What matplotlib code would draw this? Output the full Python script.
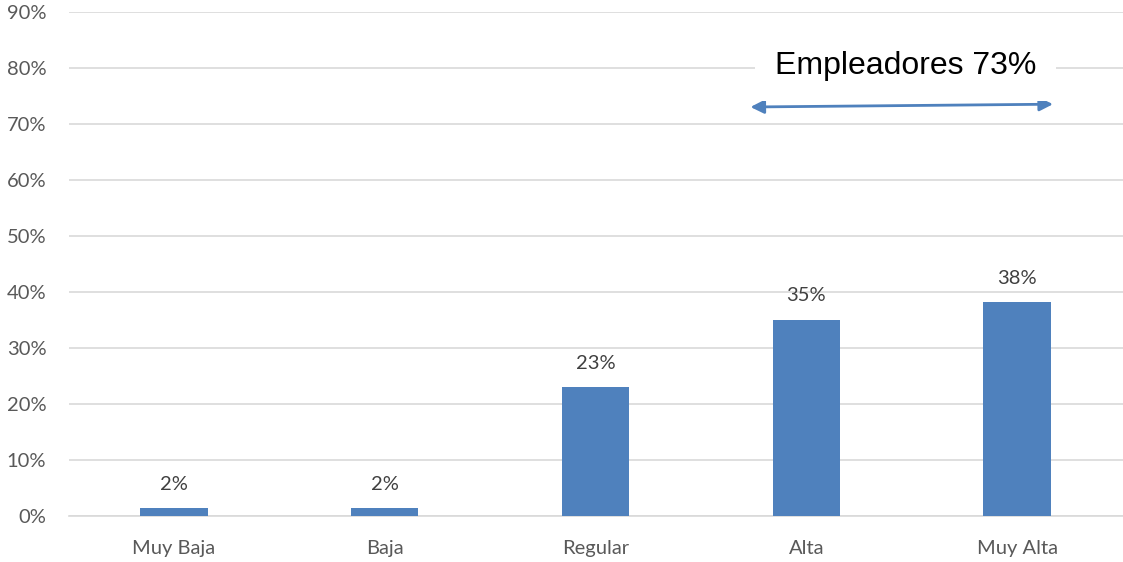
import matplotlib.pyplot as plt
from matplotlib.ticker import PercentFormatter

categories = ["Muy Baja", "Baja", "Regular", "Alta", "Muy Alta"]
shares = [1.5, 1.5, 23.1, 35.1, 38.3]
yticks = [0, 10, 20, 30, 40, 50, 60, 70, 80, 90]

BAR_COLOR = "#4F81BD"
GRID_COLOR = "#D9D9D9"
TICK_COLOR = "#595959"
LABEL_COLOR = "#404040"

plt.rcParams["font.family"] = ["Lato", "DejaVu Sans"]

fig = plt.figure(figsize=(11.23, 5.62), dpi=100)
ax = fig.add_axes([0.061, 0.0813, 0.9386, 0.8967])

x = range(len(categories))
bars = ax.bar(x, shares, width=0.32, color=BAR_COLOR, zorder=3)

for rect, v in zip(bars, shares):
    ax.annotate(f"{v:.0f}%", (rect.get_x() + rect.get_width() / 2, v),
                xytext=(0, 11), textcoords="offset points",
                ha="center", va="bottom", fontsize=14.5, color=LABEL_COLOR)

ax.set_xlim(-0.5, len(categories) - 0.5)
ax.set_ylim(0, 90)
ax.set_yticks(yticks)
ax.yaxis.set_major_formatter(PercentFormatter(decimals=0))
ax.set_xticks(list(x))
ax.set_xticklabels(categories)

ax.grid(axis="y", color=GRID_COLOR, linewidth=1.2, zorder=0)
for side in ("top", "right", "left"):
    ax.spines[side].set_visible(False)
ax.spines["bottom"].set_color(GRID_COLOR)
ax.spines["bottom"].set_linewidth(1.2)
ax.tick_params(axis="both", length=0, labelsize=14.5, colors=TICK_COLOR)
ax.tick_params(axis="y", pad=16)
ax.tick_params(axis="x", pad=17)

# double-headed arrow spanning the employer group (Alta + Muy Alta)
ax.annotate("", xy=(4.17, 73.6), xytext=(2.735, 73.1),
            arrowprops=dict(arrowstyle="<|-|>", color=BAR_COLOR, lw=2,
                            mutation_scale=20, shrinkA=0, shrinkB=0),
            zorder=5)
ax.text(3.47, 80.4, "Empleadores 73%", ha="center", va="center",
        fontsize=23, family=["Liberation Sans", "DejaVu Sans"], color="black",
        bbox=dict(facecolor="white", edgecolor="none", pad=14), zorder=5)

fig.savefig("out.png", dpi=100)
